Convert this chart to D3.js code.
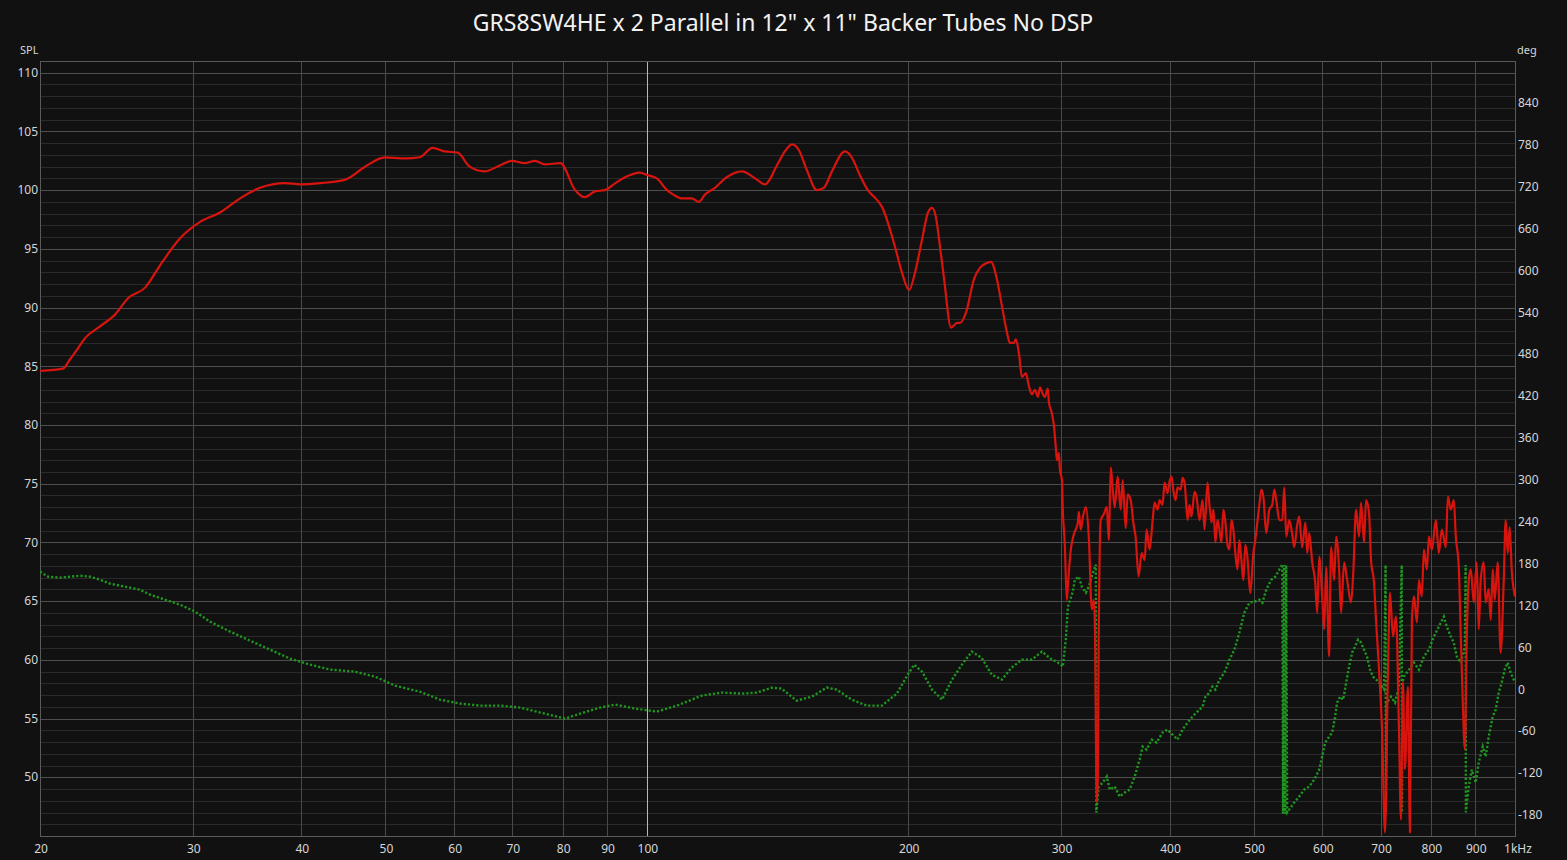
<!DOCTYPE html>
<html><head><meta charset="utf-8">
<script src="https://cdn.jsdelivr.net/npm/d3@7"></script>
<style>html,body{margin:0;padding:0;background:#111111;}svg{display:block;}</style>
</head><body>
<svg id="chart" width="1567" height="860"></svg>
<script>
const chartTitle = 'GRS8SW4HE x 2 Parallel in 12" x 11" Backer Tubes No DSP';
const xTicks = [20,30,40,50,60,70,80,90,100,200,300,400,500,600,700,800,900,1000];
const xTickLabels = ["20","30","40","50","60","70","80","90","100","200","300","400","500","600","700","800","900","1kHz"];
const splTicks = [50,55,60,65,70,75,80,85,90,95,100,105,110];
const degTicks = [-180,-120,-60,0,60,120,180,240,300,360,420,480,540,600,660,720,780,840];

// SPL (dB) vs frequency (Hz)
const splData = [
[20,84.6],[20.7,84.7],[21.26,84.8],[21.66,85.6],[22.06,86.4],[22.54,87.4],[23.45,88.4],[24.40,89.4],[25.26,90.8],[26.43,91.7],[27.50,93.6],[29.00,95.9],[30.58,97.3],[32.24,98.1],[34.00,99.3],[35.85,100.2],[38.31,100.6],[39.89,100.5],[42.06,100.6],[44.94,100.9],[47.36,102.0],[49.92,102.8],[52.61,102.7],[54.76,102.8],[56.66,103.6],[58.50,103.3],[60.55,103.2],[62.51,102.0],[65.05,101.6],[67.70,102.1],[69.89,102.5],[72.35,102.3],[74.30,102.5],[76.29,102.2],[79.5,102.3],[82.7,100.0],[84.85,99.4],[87.2,99.9],[89.5,100.0],[92.0,100.6],[94.38,101.1],[98.22,101.5],[100,101.3],[102.7,101.0],[105.5,100.0],[107.4,99.6],[109.7,99.3],[112.7,99.3],[114.8,99.0],[116.6,99.6],[119.8,100.2],[123.6,101.1],[128.7,101.6],[133.9,100.9],[136.8,100.5],[141.2,102.1],[144.2,103.3],[147.0,103.9],[149.7,103.4],[152.9,101.7],[157.0,100.0],[159.9,100.2],[163.4,101.6],[169.1,103.3],[172.2,102.8],[175.9,101.3],[179.7,100.0],[184.0,99.2],[186.5,98.6],[193.1,95.2],[196.7,93.0],[200.5,91.5],[203.7,93.0],[207.5,95.8],[210.8,98.1],[213.1,98.5],[215.4,97.6],[217.1,95.8],[220.0,92.4],[224.1,88.3],[227.7,88.7],[229.5,88.7],[233.2,89.6],[238.1,92.4],[242.0,93.4],[246.5,93.8],[249.1,93.9],[253.1,92.4],[256.5,90.1],[259.9,87.9],[261.9,87.0],[264.7,87.0],[266.1,87.3],[268.3,86.1],[270.4,84.1],[273.3,84.4],[275.5,83.3],[277.7,82.6],[279.9,83.0],[282.2,82.4],[283.7,83.2],[285.2,82.8],[287.4,82.4],[289.7,83.1],[290.5,81.9],[292.8,81.0],[294.4,79.9],[296.0,77.9],[296.7,77.0],[298.3,77.6],[299.1,76.2],[300.7,75.3],
[301.4,72.8],[303.0,69.8],[304.6,65.1],[305.5,66.4],[307.9,69.4],[310.4,70.7],[313.7,71.7],[314.5,72.6],[316.1,71.1],[317.8,72.1],[320.4,73.0],[322.9,70.5],[325.5,64.3],[327.2,65.1],[328.1,63.4],[329.8,47.9],[330.7,49.8],[331.5,61.7],[333.3,71.9],[336.0,72.4],[338.7,73.0],[340.5,70.2],[342.3,76.4],[344.1,74.5],[345.9,73.0],[348.6,75.6],[351.4,72.8],[353.3,75.3],[356.1,71.2],[358.0,74.1],[360.9,73.6],[363.7,71.5],[365.6,70.5],[368.5,67.1],[371.5,69.1],[374.5,68.5],[376.4,71.1],[379.4,69.4],[382.5,71.9],[384.5,73.4],[387.6,72.8],[389.6,73.6],[392.7,73.2],[394.8,75.1],[397.9,74.2],[400.1,75.2],[402.2,75.6],[404.3,74.3],[406.5,73.6],[408.6,74.7],[412.1,74.5],[414.1,75.5],[416.3,75.1],[419.6,71.9],[421.8,73.2],[424.0,72.2],[427.4,74.3],[429.7,73.9],[433.1,71.9],[436.6,73.6],[438.9,71.1],[442.4,75.1],[444.7,73.2],[447.1,71.7],[449.4,72.8],[451.8,70.0],[454.2,71.9],[456.6,71.1],[459.0,70.0],[461.5,72.8],[463.9,71.7],[466.4,69.8],[468.9,69.4],[471.4,71.9],[473.8,71.1],[476.4,69.0],[478.9,67.7],[481.4,70.2],[484.0,68.5],[486.5,66.8],[489.1,69.8],[491.7,68.8],[495.6,65.7],[499.6,69.1],[502.2,70.2],[504.9,71.7],[507.6,73.2],[510.3,74.5],[513.0,73.9],[517.0,70.8],[521.2,72.8],[525.3,73.2],[528.1,74.5],[530.9,73.6],[535.2,71.9],[539.5,71.9],[542.3,74.7],[545.2,70.5],[549.5,71.9],[553.9,70.7],[556.8,69.6],[561.2,71.5],[564.2,72.2],[568.7,69.6],[573.5,71.7],[576.4,69.1],[579.4,70.8],[584.0,68.3],[588.7,66.6],[591.8,64.0],[594.9,68.8],[599.6,65.4],[602.8,62.6],[606.0,67.9],[610.8,60.3],[614.0,69.6],[619.0,66.8],[622.3,70.5],[627.2,67.7],[630.5,64.0],[635.6,68.3],[640.7,66.8],[647.4,64.9],[650.9,67.1],[656.1,72.8],[661.3,70.5],[664.8,73.4],[670.1,70.0],[673.6,73.6],[679.0,72.5],[682.6,68.5],[688.0,66.6],[691.7,63.4],[697.2,59.2],[702.8,54.1],[708.4,45.3],[714.0,59.2],[717.8,65.7],[723.5,62.0],[729.3,63.7],[735.1,54.1],[739.0,46.4],[742.9,58.1],[746.9,50.7],[752.8,57.7],[756.8,45.3],[760.8,63.4],[764.8,65.4],[771.0,63.2],[775.0,66.8],[781.1,65.4],[785.3,69.4],[791.6,67.7],[795.8,70.5],[802.1,69.4],[810.7,71.9],[817.1,69.1],[823.6,71.1],[832.4,69.6],[836.8,73.9],[843.5,72.8],[850.2,73.6],[854.7,70.5],[861.5,67.9],[866.1,62.0],[870.7,56.4],[875.3,52.4],[880.0,62.0],[884.6,66.8],[889.3,67.7],[896.4,64.9],[903.5,68.3],[908.3,62.6],[913.1,66.8],[920.4,68.3],[925.3,64.9],[932.7,66.0],[937.7,63.4],[942.6,67.7],[947.6,65.1],[955.2,68.3],[962.6,60.6],[970.4,66.6],[975.6,71.9],[980.8,69.1],[986.0,71.3],[991.3,67.7],[1000,65.4]
];

// Phase (deg) vs frequency (Hz)
const phaseData = [
[20,168.6],[20.43,161.4],[21.09,160.0],[22.24,162.8],[22.84,161.4],[23.45,157.1],[24.08,151.4],[25.07,147.1],[26.08,142.8],[26.78,135.7],[27.86,128.5],[29.00,121.3],[30.18,111.3],[31.40,97.0],[33.11,82.7],[34.91,69.8],[36.81,56.9],[38.82,44.0],[40.94,35.4],[43.18,28.3],[46.11,25.4],[48.61,18.3],[51.29,5.4],[54.76,-3.2],[57.77,-14.7],[60.95,-20.4],[64.27,-23.3],[67.77,-23.3],[71.47,-26.1],[76.29,-34.7],[80.53,-41.9],[83.80,-34.7],[88.31,-26.1],[92.0,-21.8],[96.97,-27.6],[102.7,-31.8],[108.3,-23.3],[115.7,-8.9],[122.0,-4.6],[128.7,-6.1],[133.9,-4.6],[139.3,2.5],[143.0,1.1],[148.8,-16.1],[154.9,-10.4],[161.2,2.5],[165.5,-0.4],[172.2,-14.7],[179.2,-23.3],[186.5,-23.3],[194.1,-6.1],[199.5,19.7],[203.2,35.4],[207.5,25.4],[213.1,-0.4],[218.8,-14.7],[224.7,14.0],[230.6,35.4],[236.8,54.1],[243.0,45.4],[249.6,21.1],[256.5,14.0],[263.1,31.1],[270.4,42.6],[277.7,42.6],[285.2,54.1],[292.8,42.6],[296.7,39.7],[300.7,34.0],[301.4,32.6],[303.8,71.2],[305.5,118.5],[309.5,139.9],[311.2,157.1],[314.5,161.4],[317.0,147.1],[320.4,138.5],[322.9,147.1],[326.4,167.1],[329.0,178.6],[329.4,-176.4],[331.5,-139.2],
[335.1,-133.5],[338.7,-124.9],[341.4,-143.5],[345.9,-139.2],[350.5,-153.5],[355.2,-147.8],[359.9,-143.5],[364.7,-124.9],[369.5,-100.5],[372.5,-81.9],[376.4,-86.2],[381.5,-71.9],[386.5,-76.2],[392.7,-61.9],[397.9,-57.6],[403.2,-64.8],[408.6,-71.9],[414.1,-57.6],[419.6,-47.6],[425.1,-39.0],[430.8,-31.8],[436.6,-24.7],[440.1,-10.4],[444.7,-4.6],[448.2,4.0],[451.8,-0.4],[456.6,14.0],[462.7,24.0],[468.9,42.6],[475.1,56.9],[481.4,81.2],[487.8,109.9],[494.3,124.2],[500.9,125.6],[507.6,128.5],[511.7,124.2],[517.0,142.8],[523.9,157.1],[529.5,161.4],[535.2,171.4],[539.5,179],[540.5,-178],[542.0,178],[543.5,-178],[545.0,178],[546.5,-176],[549.5,-172.1],[556.8,-162.1],[564.2,-153.5],[571.7,-143.5],[579.4,-139.2],[587.1,-129.2],[594.9,-114.9],[599.6,-96.3],[604.4,-76.2],[610.8,-67.6],[615.7,-61.9],[620.6,-39.0],[623.9,-19.0],[628.9,-10.4],[634.0,-14.7],[639.0,9.7],[644.0,32.6],[649.2,52.6],[654.3,61.2],[659.6,71.2],[664.8,66.9],[670.1,56.9],[675.4,46.9],[680.8,28.3],[686.2,18.3],[697.2,10],[706.5,0],[709.5,178],[710.0,-176],[711.5,-20],[719.7,-10.4],[727.3,-19.0],[735.1,4.0],[740.5,178],[741.0,-176],[742.0,10],[744.9,18.3],[754.8,28.3],[764.8,38.3],[775.0,28.3],[785.3,46.9],[795.8,56.9],[806.4,75.5],[817.1,89.8],[828.0,104.2],[834.6,89.8],[843.5,75.5],[850.2,66.9],[857.0,46.9],[866.1,38.3],[875.3,60],[877.3,178],[877.8,-176],[884.6,-139.2],[891.6,-114.9],[901.1,-133.5],[908.3,-104.8],[918.0,-81.9],[925.3,-96.3],[932.7,-67.6],[942.6,-39.0],[950.2,-29.0],[957.7,-4.6],[965.3,9.7],[973.0,28.3],[980.8,38.3],[988.6,24.0],[1000,9.7]
];

const W = 1567, H = 860;
const plot = {left: 40, right: 1515, top: 61, bottom: 836};
const svg = d3.select("#chart");
const FONT = "'Noto Sans', 'Open Sans', sans-serif";

svg.append("rect").attr("width", W).attr("height", H).attr("fill", "#111111");

const x = d3.scaleLog().domain([20, 1000]).range([plot.left, plot.right]);
const yL = d3.scaleLinear().domain([45, 111]).range([plot.bottom, plot.top]);
const yR = d3.scaleLinear().domain([-210, 900]).range([plot.bottom, plot.top]);

// grid
const grid = svg.append("g").attr("shape-rendering", "crispEdges");
d3.range(46, 111).forEach(v => {
  const major = v % 5 === 0;
  grid.append("line")
    .attr("x1", plot.left).attr("x2", plot.right)
    .attr("y1", Math.round(yL(v)) + 0.5).attr("y2", Math.round(yL(v)) + 0.5)
    .attr("stroke", major ? "#4e4e4e" : "#2a2a2a").attr("stroke-width", 1);
});
xTicks.forEach(t => {
  if (t === 20 || t === 1000) return;
  grid.append("line")
    .attr("x1", Math.round(x(t)) + 0.5).attr("x2", Math.round(x(t)) + 0.5)
    .attr("y1", plot.top).attr("y2", plot.bottom)
    .attr("stroke", t === 100 ? "#b8b8b8" : "#4a4a4a").attr("stroke-width", 1);
});
grid.append("rect")
  .attr("x", plot.left + 0.5).attr("y", plot.top + 0.5)
  .attr("width", plot.right - plot.left).attr("height", plot.bottom - plot.top)
  .attr("fill", "none").attr("stroke", "#5a5a5a");

// clip
svg.append("defs").append("clipPath").attr("id", "clip")
  .append("rect").attr("x", plot.left).attr("y", plot.top)
  .attr("width", plot.right - plot.left).attr("height", plot.bottom - plot.top);

const gData = svg.append("g").attr("clip-path", "url(#clip)");

const phaseLine = d3.line().x(d => x(d[0])).y(d => yR(d[1])).curve(d3.curveLinear);
gData.append("path").datum(phaseData)
  .attr("d", phaseLine).attr("fill", "none")
  .attr("stroke", "#1f961f").attr("stroke-width", 2.4)
  .attr("stroke-dasharray", "2.2,2");

const splLine = d3.line().x(d => x(d[0])).y(d => yL(d[1])).curve(d3.curveMonotoneX);
gData.append("path").datum(splData)
  .attr("d", splLine).attr("fill", "none")
  .attr("stroke", "#d8140e").attr("stroke-width", 2.2)
  .attr("stroke-linejoin", "round");

// axis labels
const txt = svg.append("g").attr("font-family", FONT).attr("fill", "#d6d6d6").attr("font-size", 12);
splTicks.forEach(t => {
  txt.append("text").attr("x", 38).attr("y", yL(t)).attr("dy", "0.35em")
    .attr("text-anchor", "end").text(t);
});
degTicks.forEach(t => {
  txt.append("text").attr("x", 1518).attr("y", yR(t)).attr("dy", "0.35em")
    .attr("text-anchor", "start").text(t);
});
xTicks.forEach((t, i) => {
  txt.append("text").attr("x", x(t) + (t === 1000 ? 3 : 1)).attr("y", 849).attr("dy", "0.35em")
    .attr("text-anchor", "middle").text(xTickLabels[i]);
});
txt.append("text").attr("x", 20).attr("y", 50).attr("dy", "0.35em").attr("font-size", 11).text("SPL");
txt.append("text").attr("x", 1517).attr("y", 50).attr("dy", "0.35em").attr("font-size", 11).text("deg");

svg.append("text").attr("x", 783).attr("y", 31)
  .attr("text-anchor", "middle").attr("font-family", FONT)
  .attr("font-size", 23).attr("fill", "#f2f2f2").text(chartTitle);
</script>
</body></html>
